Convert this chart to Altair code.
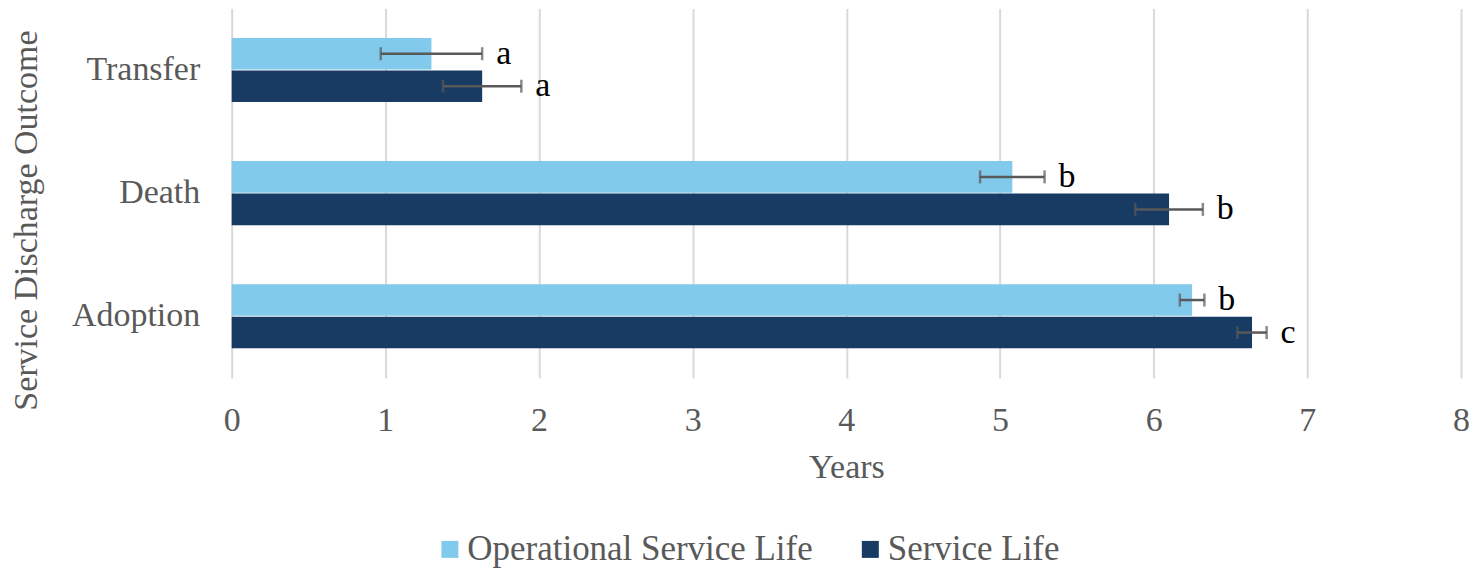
import altair as alt
import pandas as pd

categories = ["Transfer", "Death", "Adoption"]
series = ["Operational Service Life", "Service Life"]
op_mean = [1.30, 5.08, 6.25]
op_err = [0.33, 0.21, 0.08]
sl_mean = [1.63, 6.10, 6.64]
sl_err = [0.255, 0.22, 0.095]
op_letters = ["a", "b", "b"]
sl_letters = ["a", "b", "c"]
x_ticks = [0, 1, 2, 3, 4, 5, 6, 7, 8]
colors = ["#82CAEB", "#173B62"]

rows = []
for i, c in enumerate(categories):
    rows.append(dict(outcome=c, series=series[0], mean=op_mean[i],
                     lo=op_mean[i] - op_err[i], hi=op_mean[i] + op_err[i], letter=op_letters[i]))
    rows.append(dict(outcome=c, series=series[1], mean=sl_mean[i],
                     lo=sl_mean[i] - sl_err[i], hi=sl_mean[i] + sl_err[i], letter=sl_letters[i]))
df = pd.DataFrame(rows)

FONT = "Liberation Serif"
GRAY = "#595959"

base = alt.Chart(df).encode(
    y=alt.Y("outcome:N", sort=categories,
            scale=alt.Scale(paddingInner=0.48, paddingOuter=0.24),
            axis=alt.Axis(title="Service Discharge Outcome", domain=False, ticks=False,
                          labelPadding=32, labelFont=FONT, labelFontSize=34, labelColor=GRAY,
                          titleFont=FONT, titleFontSize=34, titleColor=GRAY, titleFontWeight="normal",
                          titleX=-205, titleY=212, titleBaseline="middle", titleAngle=-90)),
    yOffset=alt.YOffset("series:N", sort=series, scale=alt.Scale(paddingInner=0.03)),
)

bars = base.mark_bar().encode(
    x=alt.X("mean:Q", scale=alt.Scale(domain=[0, 8], nice=False),
            axis=alt.Axis(title="Years", values=x_ticks, format="d", domain=False, ticks=False,
                          grid=True, gridColor="#D9D9D9", gridWidth=2,
                          labelOverlap=False, labelFlush=False,
                          labelPadding=53, labelBaseline="alphabetic",
                          labelFont=FONT, labelFontSize=34, labelColor=GRAY,
                          titleFont=FONT, titleFontSize=34, titleColor=GRAY, titleFontWeight="normal",
                          titleY=100, titleBaseline="alphabetic")),
    color=alt.Color("series:N", sort=series, scale=alt.Scale(domain=series, range=colors),
                    legend=alt.Legend(title=None, orient="none", legendX=201, legendY=524,
                                      direction="horizontal", symbolType="square", symbolSize=289,
                                      symbolStrokeWidth=0, labelFont=FONT, labelFontSize=35,
                                      labelColor=GRAY, labelOffset=0, columnPadding=40,
                                      labelLimit=0, symbolOpacity=1)),
)

rules = base.mark_rule(color=GRAY, strokeWidth=2.5).encode(x="lo:Q", x2="hi:Q")
cap_lo = base.mark_tick(color=GRAY, thickness=2.5, size=13, orient="vertical").encode(x="lo:Q")
cap_hi = base.mark_tick(color=GRAY, thickness=2.5, size=13, orient="vertical").encode(x="hi:Q")
labels = base.mark_text(align="left", baseline="middle", dx=14, font=FONT, fontSize=34,
                        color="#000000").encode(x="hi:Q", text="letter:N")

chart = alt.layer(bars, rules, cap_lo, cap_hi, labels).properties(
    width=1231, height=370,
    autosize=alt.AutoSizeParams(type="none"),
    padding={"left": 224, "top": 0, "right": 8, "bottom": 196},
).configure_view(stroke=None)

chart.save("out.html", embed_options={"renderer": "svg", "actions": False})
